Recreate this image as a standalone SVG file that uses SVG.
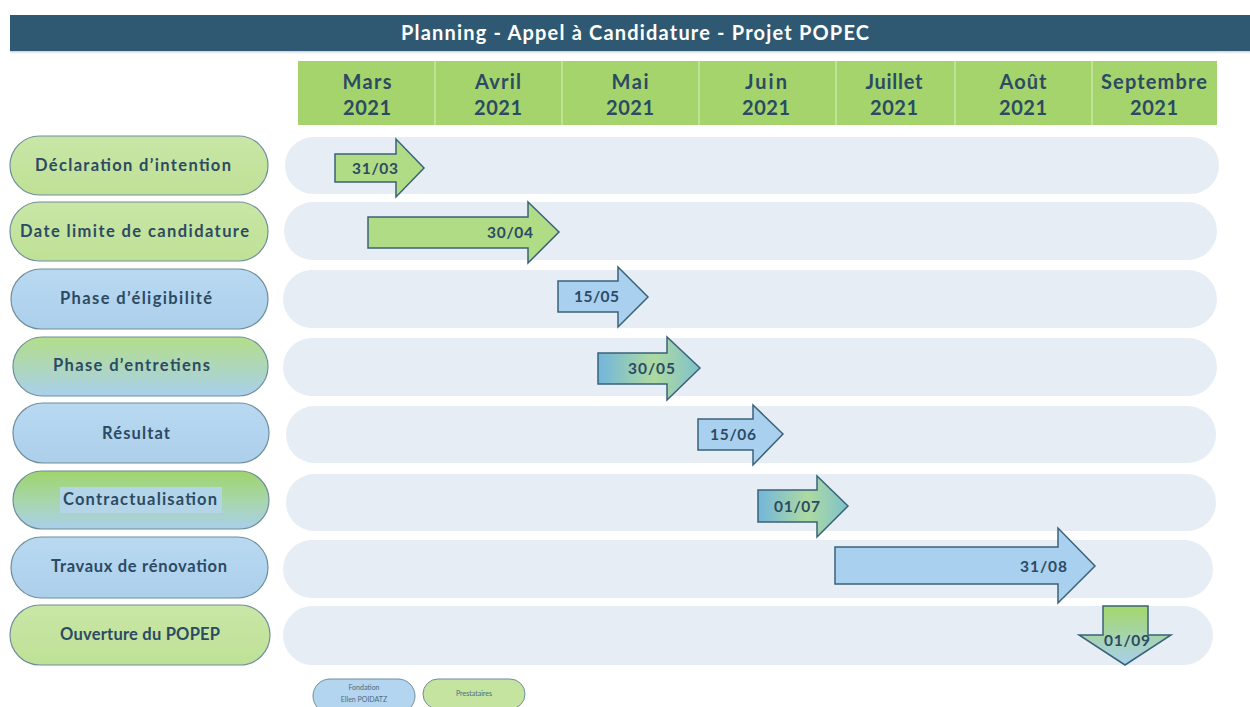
<svg xmlns="http://www.w3.org/2000/svg" width="1250" height="707" viewBox="0 0 1250 707">
<defs>
<style>
.t{font-family:Lato,"Liberation Sans",sans-serif;font-weight:bold;fill:#2c4a63;text-anchor:middle}
.lbl{font-size:16.5px}
.mon{font-size:20px}
.date{font-size:15.5px}
.track{fill:#e6edf4}
.pill{stroke:#6f8e9c;stroke-width:1.2}
.arr{stroke:#3a6278;stroke-width:1.5;stroke-linejoin:miter}
.leg{font-family:Lato,"Liberation Sans",sans-serif;font-size:7px;fill:#4b6b80;text-anchor:middle}
</style>
<linearGradient id="gGreen" x1="0" y1="0" x2="0" y2="1"><stop offset="0" stop-color="#c9e6a6"/><stop offset="1" stop-color="#bfe196"/></linearGradient>
<linearGradient id="gBlue" x1="0" y1="0" x2="0" y2="1"><stop offset="0" stop-color="#b9d9f1"/><stop offset="1" stop-color="#accfeb"/></linearGradient>
<linearGradient id="gMix" x1="0" y1="0" x2="0" y2="1"><stop offset="0" stop-color="#b3de88"/><stop offset="1" stop-color="#a9d0ec"/></linearGradient>
<linearGradient id="gMix2" x1="0" y1="0" x2="0" y2="1"><stop offset="0" stop-color="#9fd46c"/><stop offset="0.55" stop-color="#a8d6b0"/><stop offset="1" stop-color="#a9cfea"/></linearGradient>
<linearGradient id="aMix" x1="0" y1="0" x2="1" y2="0"><stop offset="0" stop-color="#72b6db"/><stop offset="0.55" stop-color="#aedaa0"/><stop offset="1" stop-color="#7fc1cc"/></linearGradient>
<linearGradient id="aDown" x1="0" y1="0" x2="0" y2="1"><stop offset="0" stop-color="#a3d86a"/><stop offset="1" stop-color="#a9d0ee"/></linearGradient>
<linearGradient id="shadow" x1="0" y1="0" x2="0" y2="1"><stop offset="0" stop-color="#9aa9b4" stop-opacity="0.6"/><stop offset="1" stop-color="#ffffff" stop-opacity="0"/></linearGradient>
</defs>

<g id="title">
<rect x="10" y="51" width="1240" height="4" fill="url(#shadow)"/>
<rect x="10" y="15" width="1240" height="36" fill="#2f5972"/>
<text x="635" y="39.5" font-family="Lato,'Liberation Sans',sans-serif" font-weight="bold" font-size="20" fill="#ffffff" text-anchor="middle" textLength="468" lengthAdjust="spacing">Planning - Appel à Candidature - Projet POPEC</text>
</g>

<g id="header">
<rect x="298" y="61" width="919" height="64" fill="#a4d46b"/>
<g stroke="#c9e8a4" stroke-width="1.5">
<line x1="435" y1="61" x2="435" y2="125"/>
<line x1="562" y1="61" x2="562" y2="125"/>
<line x1="699" y1="61" x2="699" y2="125"/>
<line x1="836" y1="61" x2="836" y2="125"/>
<line x1="955" y1="61" x2="955" y2="125"/>
<line x1="1092" y1="61" x2="1092" y2="125"/>
</g>
<text class="t mon" x="367" y="89" textLength="49" lengthAdjust="spacing">Mars</text><text class="t mon" x="367" y="115" textLength="48" lengthAdjust="spacing">2021</text>
<text class="t mon" x="498" y="89" textLength="46" lengthAdjust="spacing">Avril</text><text class="t mon" x="498" y="115" textLength="48" lengthAdjust="spacing">2021</text>
<text class="t mon" x="630" y="89" textLength="37" lengthAdjust="spacing">Mai</text><text class="t mon" x="630" y="115" textLength="48" lengthAdjust="spacing">2021</text>
<text class="t mon" x="766" y="89" textLength="42" lengthAdjust="spacing">Juin</text><text class="t mon" x="766" y="115" textLength="48" lengthAdjust="spacing">2021</text>
<text class="t mon" x="894" y="89" textLength="57" lengthAdjust="spacing">Juillet</text><text class="t mon" x="894" y="115" textLength="48" lengthAdjust="spacing">2021</text>
<text class="t mon" x="1023" y="89" textLength="47" lengthAdjust="spacing">Août</text><text class="t mon" x="1023" y="115" textLength="48" lengthAdjust="spacing">2021</text>
<text class="t mon" x="1154" y="89" textLength="106" lengthAdjust="spacing">Septembre</text><text class="t mon" x="1154" y="115" textLength="48" lengthAdjust="spacing">2021</text>
</g>

<g id="tracks">
<rect class="track" x="285" y="137" width="934" height="57" rx="28.5"/>
<rect class="track" x="284" y="202" width="933" height="58" rx="29"/>
<rect class="track" x="283" y="270" width="934" height="58" rx="29"/>
<rect class="track" x="283" y="338" width="934" height="58" rx="29"/>
<rect class="track" x="286" y="406" width="930" height="57" rx="28.5"/>
<rect class="track" x="286" y="474" width="930" height="57" rx="28.5"/>
<rect class="track" x="283" y="540" width="930" height="58" rx="29"/>
<rect class="track" x="283" y="606" width="930" height="59" rx="29.5"/>
</g>

<g id="n1"><rect class="pill" x="10" y="136" width="258" height="59" rx="29.5" fill="url(#gGreen)"/><text class="t lbl" x="133" y="171" textLength="196" lengthAdjust="spacing">Déclaration  d’intention</text></g>
<g id="n2"><rect class="pill" x="10" y="202" width="258" height="59" rx="29.5" fill="url(#gGreen)"/><text class="t lbl" x="134.5" y="237" textLength="229" lengthAdjust="spacing">Date limite de candidature</text></g>
<g id="n3"><rect class="pill" x="11" y="269" width="257" height="60" rx="30" fill="url(#gBlue)"/><text class="t lbl" x="136" y="304" textLength="152" lengthAdjust="spacing">Phase d’éligibilité</text></g>
<g id="n4"><rect class="pill" x="13" y="337" width="255" height="59" rx="29.5" fill="url(#gMix)"/><text class="t lbl" x="131.5" y="371" textLength="157" lengthAdjust="spacing">Phase d’entretiens</text></g>
<g id="n5"><rect class="pill" x="13" y="403" width="256" height="60" rx="30" fill="url(#gBlue)"/><text class="t lbl" x="136" y="439" textLength="68" lengthAdjust="spacing">Résultat</text></g>
<g id="n6"><rect class="pill" x="13" y="471" width="256" height="58" rx="29" fill="url(#gMix2)"/><rect x="60" y="487" width="162" height="26" fill="#b4d5e8"/><text class="t lbl" x="140" y="505" textLength="154" lengthAdjust="spacing">Contractualisation</text></g>
<g id="n7"><rect class="pill" x="11" y="537" width="257" height="61" rx="30.5" fill="url(#gBlue)"/><text class="t lbl" x="139" y="572" textLength="176" lengthAdjust="spacing">Travaux de rénovation</text></g>
<g id="n8"><rect class="pill" x="10" y="605" width="260" height="60" rx="30" fill="url(#gGreen)"/><text class="t lbl" x="140" y="640" textLength="160" lengthAdjust="spacing">Ouverture du POPEP</text></g>

<g id="connectors">
<g id="a1"><polygon class="arr" fill="#b0dc86" points="335,154 396,154 396,139 424,168 396,197 396,182 335,182"/><text class="t date" x="375" y="174" textLength="46" lengthAdjust="spacing">31/03</text></g>
<g id="a2"><polygon class="arr" fill="#b0dc86" points="368,217 528,217 528,202 559,232 528,263 528,248 368,248"/><text class="t date" x="510" y="238" textLength="46" lengthAdjust="spacing">30/04</text></g>
<g id="a3"><polygon class="arr" fill="#a9d0ee" points="558,281 618,281 618,267 648,297 618,327 618,312 558,312"/><text class="t date" x="596.5" y="302" textLength="45" lengthAdjust="spacing">15/05</text></g>
<g id="a4"><polygon class="arr" fill="url(#aMix)" points="598,353 667,353 667,337 700,368 667,400 667,384 598,384"/><text class="t date" x="651.5" y="374" textLength="47" lengthAdjust="spacing">30/05</text></g>
<g id="a5"><polygon class="arr" fill="#a9d0ee" points="698,419 753,419 753,405 783,434 753,465 753,450 698,450"/><text class="t date" x="733" y="440" textLength="46" lengthAdjust="spacing">15/06</text></g>
<g id="a6"><polygon class="arr" fill="url(#aMix)" points="758,490 817,490 817,476 848,506 817,537 817,522 758,522"/><text class="t date" x="797" y="512" textLength="46" lengthAdjust="spacing">01/07</text></g>
<g id="a7"><polygon class="arr" fill="#a9d0ee" points="835,547 1058,547 1058,528 1095,566 1058,603 1058,584 835,584"/><text class="t date" x="1043.5" y="572" textLength="47" lengthAdjust="spacing">31/08</text></g>
<g id="a8"><polygon class="arr" fill="url(#aDown)" stroke="#3a86a8" stroke-width="1.5" points="1103,606 1148,606 1148,635 1171,635 1125,665 1079,635 1103,635"/><text class="t date" x="1127" y="646" textLength="46" lengthAdjust="spacing">01/09</text></g>
</g>

<g id="legend">
<g id="leg1"><rect x="313" y="679" width="102" height="34" rx="17" fill="#b4d5f0" stroke="#6f8e9c" stroke-width="1"/><text class="leg" x="364" y="690">Fondation</text><text class="leg" x="364" y="702">Ellen POIDATZ</text></g>
<g id="leg2"><rect x="423" y="679" width="102" height="30" rx="15" fill="#c4e4a0" stroke="#6f8e9c" stroke-width="1"/><text class="leg" x="474" y="696">Prestataires</text></g>
</g>
</svg>
